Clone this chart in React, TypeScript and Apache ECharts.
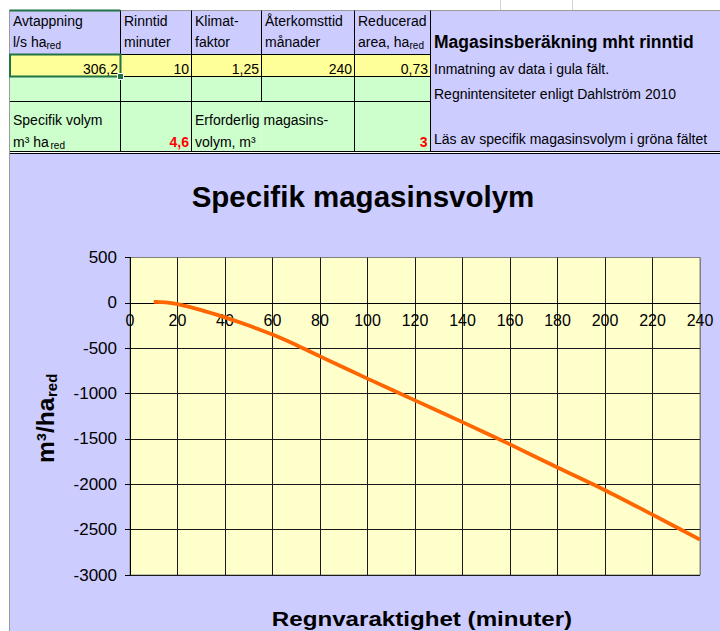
import React, { useEffect, useRef } from 'react';
import * as echarts from 'echarts';

const FONT = "'Liberation Sans', Arial, Helvetica, sans-serif";

// Chart data
const minutes = [10, 15, 20, 30, 40, 50, 60, 70, 80, 100, 120, 140, 160, 180, 200, 220, 240];
const volumes = [10, 5, -15, -80, -160, -250, -350, -465, -590, -835, -1075, -1315, -1560, -1815, -2065, -2335, -2610];

// Sheet texts
const headerTop = ['Avtappning', 'Rinntid', 'Klimat-', 'Återkomsttid', 'Reducerad'];
const headerBottom = ['l/s ha', 'minuter', 'faktor', 'månader', 'area, ha'];
const headerSubX = [46.5, 0, 0, 0, 409.5];
const inputValues = ['306,2', '10', '1,25', '240', '0,73'];
const specificVolume = '4,6';
const requiredVolume = '3';
const panelTitle = 'Magasinsberäkning mht rinntid';
const panelNotes = ['Inmatning av data i gula fält.', 'Regnintensiteter enligt Dahlström 2010', 'Läs av specifik magasinsvolym i gröna fältet'];
const chartTitle = 'Specifik magasinsvolym';
const xTitle = 'Regnvaraktighet (minuter)';

const colX = [9.5, 120.5, 191.5, 261.5, 354.5, 430.5, 720];
const rowY = [10.5, 54.5, 76.5, 101.5, 151.5];

const LAV = '#CCCCFF';
const YEL = '#FFFF99';
const GRN = '#CCFFCC';

const GRID_TOP = 257.5;
const GRID_H = 317.5;
const Y_MIN = -3000;
const Y_MAX = 500;

function txt(x: number, y: number, text: string, o: any = {}) {
  const align = o.align ?? 'left';
  const va = o.va ?? 'middle';
  return {
    type: 'text',
    x,
    y,
    z: 50,
    scaleX: o.scaleX ?? 1,
    style: {
      text,
      fontSize: o.size ?? 14,
      fontFamily: FONT,
      fontWeight: o.bold ? 'bold' : 'normal',
      fill: o.color ?? '#000',
      align,
      verticalAlign: va,
      textAlign: align,
      textVerticalAlign: va,
    },
  };
}
function rect(x: number, y: number, w: number, h: number, fill: string, z = 1, stroke?: string, lw = 1) {
  return {
    type: 'rect',
    z,
    shape: { x, y, width: w, height: h },
    style: stroke ? { fill, stroke, lineWidth: lw } : { fill },
  };
}
function line(x1: number, y1: number, x2: number, y2: number, stroke = '#000', lw = 1, z = 10) {
  return { type: 'line', z, shape: { x1, y1, x2, y2 }, style: { stroke, lineWidth: lw } };
}

export default function App() {
  const ref = useRef<HTMLDivElement>(null);
  useEffect(() => {
    if (!ref.current) return;
    const chart = echarts.init(ref.current, undefined, { renderer: 'svg' });

    const g: any[] = [];
    // top faint sheet lines
    g.push(line(500.5, 0, 500.5, 10, '#D4D4D4', 1, 2));
    g.push(line(572.5, 0, 572.5, 10, '#D4D4D4', 1, 2));
    // chart area background
    g.push(rect(9.5, 153.5, 711, 478, LAV, -5));
    // table cells
    for (let c = 0; c < 5; c++) {
      const w = colX[c + 1] - colX[c];
      g.push(rect(colX[c], rowY[0], w, rowY[1] - rowY[0], LAV, 1));
      g.push(rect(colX[c], rowY[1], w, rowY[2] - rowY[1], YEL, 1));
      g.push(rect(colX[c], rowY[2], w, rowY[3] - rowY[2], GRN, 1));
      g.push(rect(colX[c], rowY[3], w, rowY[4] - rowY[3], GRN, 1));
    }
    g.push(rect(colX[5], rowY[0], colX[6] - colX[5], rowY[4] - rowY[0], LAV, 1));
    // horizontal borders
    g.push(line(colX[0], rowY[0], 720, rowY[0], '#9A9A9A'));
    for (let r = 1; r < 4; r++) g.push(line(colX[0], rowY[r], colX[5], rowY[r]));
    g.push(line(colX[0], rowY[4], 720, rowY[4]));
    g.push(line(colX[0], rowY[4] + 2, 720, rowY[4] + 2));
    // vertical borders
    g.push(line(colX[0], rowY[0], colX[0], 631, '#9A9A9A'));
    for (let c = 1; c < 6; c++) {
      if (c === 3) g.push(line(colX[c], rowY[0], colX[c], rowY[3]));
      else g.push(line(colX[c], rowY[0], colX[c], rowY[4]));
    }
    // selection highlight
    g.push(line(colX[0], rowY[0], colX[1], rowY[0], '#217346', 2, 20));
    g.push({ type: 'rect', z: 20, shape: { x: colX[0] + 0.5, y: rowY[1], width: colX[1] - colX[0] - 0.5, height: rowY[2] - rowY[1] }, style: { fill: 'none', stroke: '#217346', lineWidth: 2 } });
    g.push(rect(colX[1] - 3, rowY[2] - 3, 6, 6, '#217346', 21, '#FFFFFF', 1));

    // header texts
    for (let c = 0; c < 5; c++) {
      const x0 = colX[c] + 3.5;
      g.push(txt(x0, 21, headerTop[c]));
      g.push(txt(x0, 42, headerBottom[c]));
      if (headerSubX[c]) g.push(txt(headerSubX[c], 45, 'red', { size: 10 }));
      g.push(txt(colX[c + 1] - 2.5, 69, inputValues[c], { align: 'right' }));
    }
    // row 4 texts
    g.push(txt(13, 120, 'Specifik volym'));
    g.push(txt(13, 142, 'm³ ha'));
    g.push(txt(50.5, 145, 'red', { size: 10 }));
    g.push(txt(colX[2] - 2.5, 142, specificVolume, { align: 'right', bold: true, color: '#FF0000' }));
    g.push(txt(colX[2] + 3.5, 120, 'Erforderlig magasins-'));
    g.push(txt(colX[2] + 3.5, 142, 'volym, m³'));
    g.push(txt(colX[5] - 3, 142, requiredVolume, { align: 'right', bold: true, color: '#FF0000' }));
    // right panel
    g.push(txt(434, 42, panelTitle, { size: 17.5, bold: true }));
    g.push(txt(434, 69, panelNotes[0]));
    g.push(txt(434, 93.5, panelNotes[1]));
    g.push(txt(434, 138.5, panelNotes[2]));

    // chart titles
    g.push(txt(363, 196.5, chartTitle, { size: 29.5, bold: true, align: 'center' }));
    g.push(txt(422, 619.5, xTitle, { size: 21, bold: true, align: 'center', scaleX: 1.15 }));
    g.push({
      type: 'group',
      x: 45,
      y: 463,
      rotation: Math.PI / 2,
      z: 50,
      children: [
        txt(0, 0, 'm³/ha', { size: 24.5, bold: true }),
        txt(66, 6.5, 'red', { size: 15, bold: true }),
      ],
    });

    const xSplit = Array.from({ length: 13 }, (_, i) => (i === 12 ? '#808080' : '#1A1A1A'));
    const ySplit = Array.from({ length: 8 }, (_, i) => (i === 7 ? '#808080' : '#1A1A1A'));

    // distance from the bottom of the plot to the zero line (x axis sits at y = 0)
    const zeroOffset = (GRID_H * (0 - Y_MIN)) / (Y_MAX - Y_MIN);

    chart.setOption({
      animation: false,
      backgroundColor: '#FFFFFF',
      grid: {
        left: 130,
        top: GRID_TOP,
        width: 570,
        height: GRID_H,
        show: true,
        backgroundColor: '#FFFFCC',
        borderColor: '#808080',
        borderWidth: 1,
        containLabel: false,
      },
      xAxis: {
        type: 'value',
        min: 0,
        max: 240,
        interval: 20,
        offset: -zeroOffset,
        axisLine: { show: true, onZero: false, lineStyle: { color: '#000', width: 1 } },
        axisTick: { show: false },
        axisLabel: { fontSize: 16, color: '#000', margin: 10, fontFamily: FONT },
        splitLine: { show: true, lineStyle: { color: xSplit, width: 1 } },
      },
      yAxis: {
        type: 'value',
        min: Y_MIN,
        max: Y_MAX,
        interval: 500,
        axisLine: { show: true, onZero: false, lineStyle: { color: '#000', width: 1 } },
        axisTick: { show: true, length: 5, lineStyle: { color: '#000' } },
        axisLabel: { fontSize: 17, color: '#000', margin: 13, fontFamily: FONT, formatter: (v: number) => String(v) },
        splitLine: { show: true, lineStyle: { color: ySplit, width: 1 } },
      },
      series: [
        {
          type: 'line',
          data: minutes.map((m, i) => [m, volumes[i]]),
          smooth: 0.3,
          showSymbol: false,
          lineStyle: { color: '#FF6600', width: 3.8 },
          z: 5,
        },
      ],
      graphic: { elements: g },
    });

    return () => chart.dispose();
  }, []);

  return (
    <div
      ref={ref}
      style={{ position: 'fixed', left: 0, top: 0, width: 720, height: 631 }}
    />
  );
}
